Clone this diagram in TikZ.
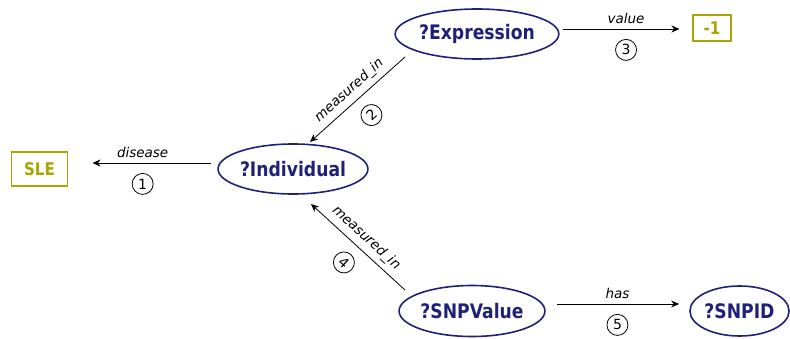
\documentclass[tikz,border=0pt]{standalone}
\usepackage{fontspec}
\setmainfont{DejaVu Sans}
\newfontfamily\termfont{DejaVu Sans}[FakeStretch=0.86]
\usetikzlibrary{arrows.meta,shapes.geometric}
\definecolor{varblue}{RGB}{32,32,122}
\definecolor{litolive}{RGB}{168,166,0}
\tikzset{
  var/.style={ellipse, draw=varblue, line width=1.6pt, text=varblue,
    font=\termfont\fontsize{20}{24}\selectfont\bfseries, inner sep=0pt},
  lit/.style={rectangle, draw=litolive, line width=1.1pt, text=litolive,
    font=\termfont\fontsize{17.5}{21}\selectfont\bfseries, inner sep=0pt},
  rel/.style={-{Stealth[length=8pt,width=7pt]}, line width=0.8pt},
  rellabel/.style={font=\fontsize{13.5}{15}\selectfont\itshape, inner sep=2pt},
  stepnum/.style={circle, draw, line width=0.8pt, minimum size=21pt, inner sep=0pt,
    font=\fontsize{14}{16}\selectfont}
}
\begin{document}
\begin{tikzpicture}[x=1pt,y=1pt]
\useasboundingbox (0,0) rectangle (790,338);

% terms
\node[lit, minimum width=56pt, minimum height=34pt] (sle) at (39.5,169) {SLE};
\node[var, minimum width=132pt, minimum height=50pt] (ind) at (293,169) {?Individual};
\node[var, minimum width=143pt, minimum height=50pt] (expr) at (477,304) {?Expression};
\node[lit, minimum width=38pt, minimum height=26pt] (val) at (712,310) {-1};
\node[var, minimum width=135pt, minimum height=51pt] (snpv) at (472,27) {?SNPValue};
\node[var, minimum width=99pt, minimum height=50pt] (snpid) at (739.5,27) {?SNPID};

% triple 1
\draw[rel, shorten <=6pt, shorten >=24.5pt] ([yshift=6pt]ind.west) -- ([yshift=6pt]sle.east)
  node[rellabel, pos=0.5, above=3pt] {disease}
  node[stepnum, pos=0.5, below=10pt] {1};

% triple 2
\draw[rel] ([shift={(-72pt,-23pt)}]expr.center) -- ([shift={(17pt,27pt)}]ind.center)
  node[rellabel, pos=0.5, sloped, above=3pt] {measured\_in}
  node[stepnum, pos=0.5, sloped, below=10pt] {2};

% triple 3
\draw[rel, shorten <=3pt, shorten >=13pt] ([yshift=5pt]expr.east) -- ([yshift=-1pt]val.west)
  node[rellabel, pos=0.5, above=3pt] {value}
  node[stepnum, pos=0.5, below=10pt] {3};

% triple 4
\draw[rel] ([shift={(-67pt,21pt)}]snpv.center) -- ([shift={(18pt,-35pt)}]ind.center)
  node[rellabel, pos=0.5, sloped, above=3pt] {measured\_in}
  node[stepnum, pos=0.5, sloped, below=10pt] {4};

% triple 5
\draw[rel, shorten <=11.5pt, shorten >=10pt] ([yshift=7pt]snpv.east) -- ([yshift=7pt]snpid.west)
  node[rellabel, pos=0.5, above=3pt] {has}
  node[stepnum, pos=0.5, below=10pt] {5};
\end{tikzpicture}
\end{document}
